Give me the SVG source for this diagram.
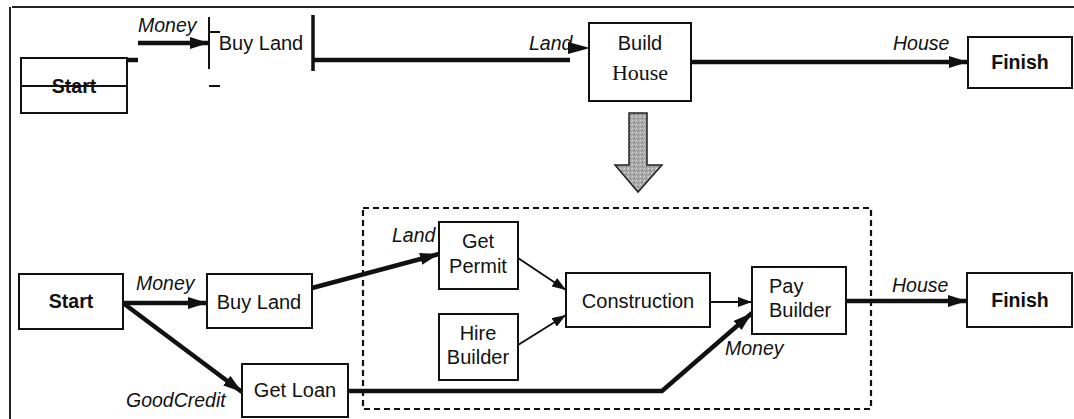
<svg xmlns="http://www.w3.org/2000/svg" width="1074" height="419" viewBox="0 0 1074 419">
<style>
.box{fill:#fff;stroke:#111;stroke-width:2}
.t{font-family:"Liberation Sans",Arial,sans-serif;font-size:20px;fill:#111;text-anchor:middle}
.b{font-weight:bold;font-size:19.5px}
.s{font-family:"Liberation Serif","Times New Roman",serif;font-size:22px}
.lbl{font-family:"Liberation Sans",Arial,sans-serif;font-size:19.5px;font-style:italic;fill:#111}
.thick{fill:none;stroke:#111;stroke-width:4.5}
.thin{fill:none;stroke:#111;stroke-width:2}
.frame{fill:none;stroke:#222;stroke-width:2}
</style>
<defs>
<marker id="ah" markerUnits="userSpaceOnUse" markerWidth="20" markerHeight="12" refX="19" refY="6" orient="auto">
<path d="M0,0 L19,6 L0,12 z" fill="#111"/>
</marker>
<marker id="ahs" markerUnits="userSpaceOnUse" markerWidth="15" markerHeight="10" refX="14" refY="5" orient="auto">
<path d="M0,0 L14,5 L0,10 z" fill="#111"/>
</marker>
<pattern id="stip" width="4" height="4" patternUnits="userSpaceOnUse">
<rect width="4" height="4" fill="#a8a8a8"/>
<rect x="0" y="0" width="1" height="1" fill="#e0e0e0"/>
<rect x="2" y="2" width="1" height="1" fill="#707070"/>
<rect x="3" y="1" width="1" height="1" fill="#d0d0d0"/>
</pattern>
</defs>
<rect width="1074" height="419" fill="#fff"/>
<g id="frame">
<path class="frame" d="M12,7 L1074,7 M10,7 L10,419"/>
</g>
<g id="connectors">
<path class="thick" d="M127,60 L138,60"/>
<path class="thick" d="M138,43 L209,43" marker-end="url(#ah)"/>
<path class="thick" d="M313,60 L570,60"/>
<polygon points="568,42 590,48 568,54" fill="#111"/>
<path class="thick" d="M691,62 L968,62" marker-end="url(#ah)"/>
<path class="thick" d="M123,303 L207,303" marker-end="url(#ah)"/>
<path class="thick" d="M123,303 L242,392" marker-end="url(#ah)"/>
<path class="thick" d="M312,288 L439,254" marker-end="url(#ah)"/>
<path class="thin" d="M518,258 L566,290" marker-end="url(#ahs)"/>
<path class="thin" d="M518,345 L566,315" marker-end="url(#ahs)"/>
<path class="thin" d="M710,302 L752,302" marker-end="url(#ahs)"/>
<path class="thick" d="M348,391 L662,391 L752,313" marker-end="url(#ah)"/>
<path class="thick" d="M846,301 L967,301" marker-end="url(#ah)"/>
<rect x="363" y="208" width="508" height="201" fill="none" stroke="#111" stroke-width="2.2" stroke-dasharray="6,4"/>
</g>
<g id="labels">
<text class="lbl" x="138" y="32">Money</text>
<text class="lbl" x="529" y="50">Land</text>
<text class="lbl" x="893" y="50">House</text>
<text class="lbl" x="136" y="290">Money</text>
<text class="lbl" x="126" y="407">GoodCredit</text>
<text class="lbl" x="392" y="242">Land</text>
<text class="lbl" x="725" y="355">Money</text>
<text class="lbl" x="892" y="292">House</text>
</g>
<g id="top-start">
<rect class="box" x="21" y="58" width="106" height="55"/>
<text class="t b" x="74" y="93">Start</text>
<path d="M21,86 L127,86" stroke="#111" stroke-width="2"/>
</g>
<g id="top-buy-land">
<path d="M209,17 L209,69 M209,32 L220,32 M209,86 L220,86" stroke="#111" stroke-width="2" fill="none"/>
<path d="M313,15 L313,71" stroke="#111" stroke-width="3.5"/>
<text class="t" x="261" y="50">Buy Land</text>
</g>
<g id="top-build-house">
<rect class="box" x="589" y="23" width="102" height="78"/>
<text class="t" x="640" y="50">Build</text>
<text class="t s" x="640" y="80">House</text>
</g>
<g id="top-finish">
<rect class="box" x="968" y="37" width="104" height="51"/>
<text class="t b" x="1020" y="69">Finish</text>
</g>
<g id="refine-arrow">
<path d="M629,113 L647,113 L647,165 L662,165 L638,192 L615,165 L629,165 z" fill="url(#stip)" stroke="#222" stroke-width="1.5"/>
</g>
<g id="start">
<rect class="box" x="19" y="274" width="104" height="55"/>
<text class="t b" x="71" y="308">Start</text>
</g>
<g id="buy-land">
<rect class="box" x="207" y="274" width="105" height="54"/>
<text class="t" x="259" y="309">Buy Land</text>
</g>
<g id="get-loan">
<rect class="box" x="242" y="364" width="106" height="53"/>
<text class="t" x="295" y="397">Get Loan</text>
</g>
<g id="get-permit">
<rect class="box" x="439" y="222" width="79" height="67"/>
<text class="t" x="478" y="248">Get</text>
<text class="t" x="478" y="273">Permit</text>
</g>
<g id="hire-builder">
<rect class="box" x="439" y="314" width="79" height="66"/>
<text class="t" x="478" y="340">Hire</text>
<text class="t" x="478" y="364">Builder</text>
</g>
<g id="construction">
<rect class="box" x="566" y="273" width="144" height="54"/>
<text class="t" x="638" y="308">Construction</text>
</g>
<g id="pay-builder">
<rect class="box" x="752" y="267" width="94" height="67"/>
<text class="t" x="769" y="293" style="text-anchor:start">Pay</text>
<text class="t" x="769" y="317" style="text-anchor:start">Builder</text>
</g>
<g id="finish">
<rect class="box" x="967" y="273" width="105" height="54"/>
<text class="t b" x="1020" y="307">Finish</text>
</g>
</svg>
